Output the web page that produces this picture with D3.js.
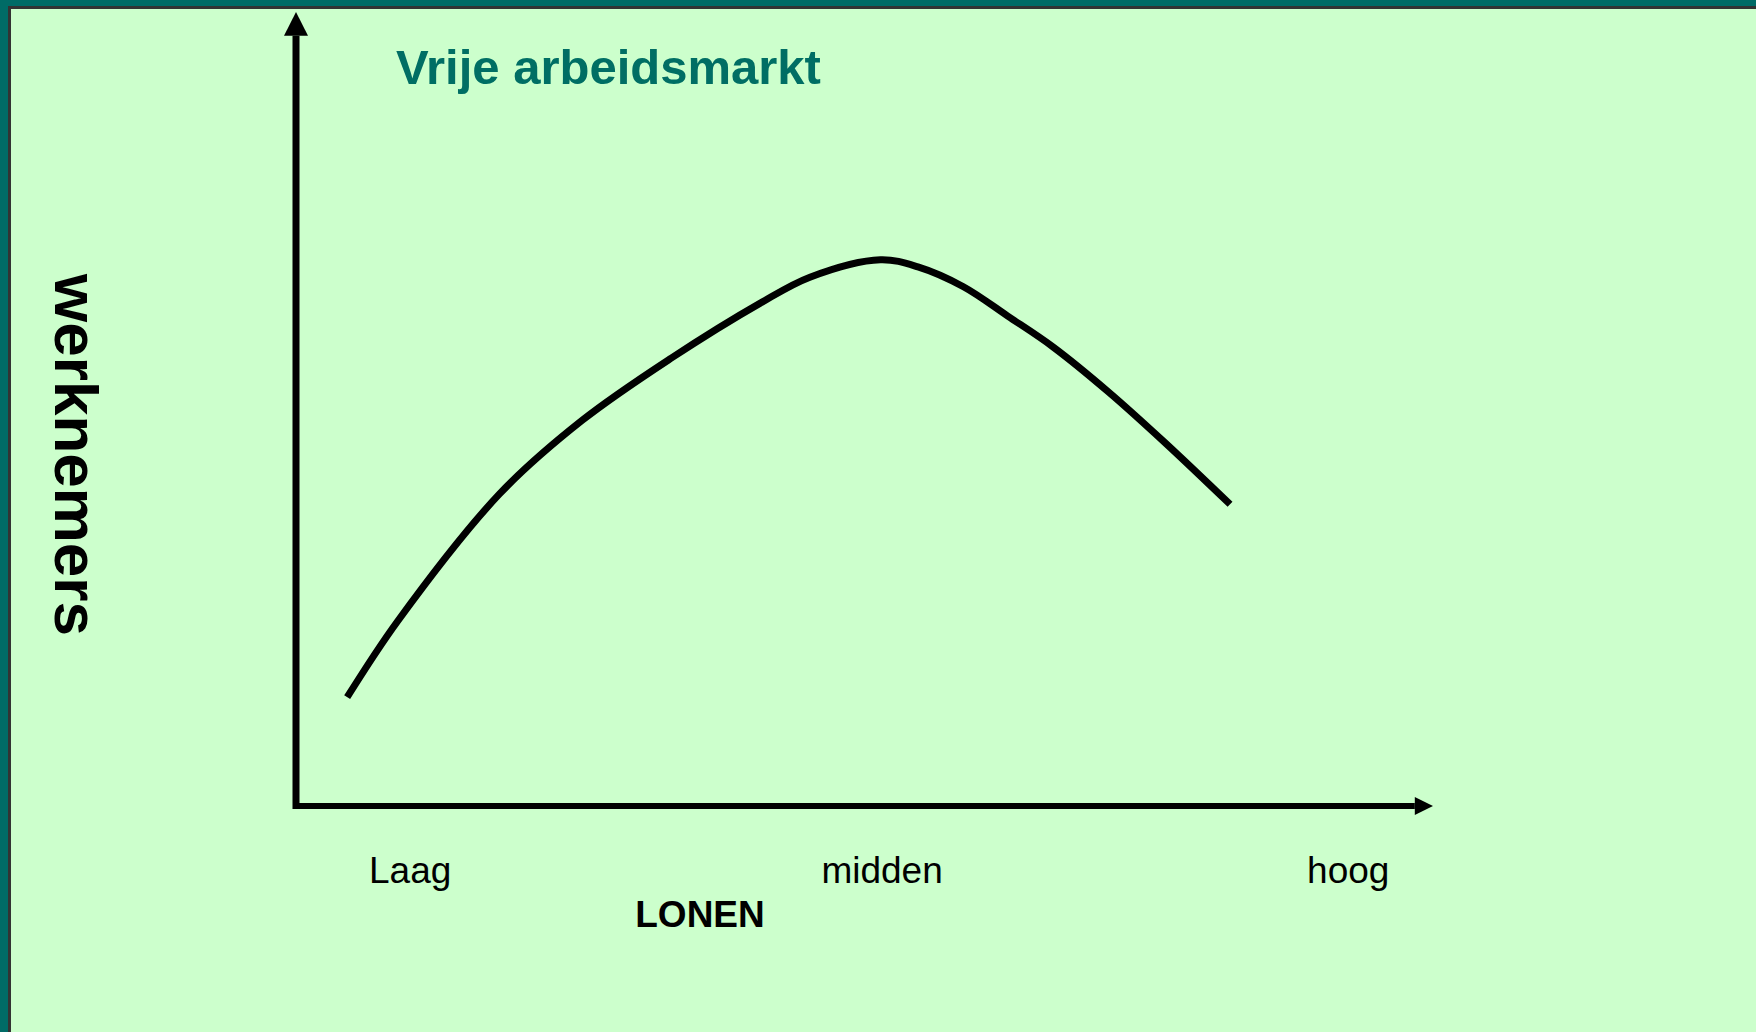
<!DOCTYPE html>
<html>
<head>
<meta charset="utf-8">
<script src="https://cdn.jsdelivr.net/npm/d3@7"></script>
<style>
  body { margin: 0; background: #006b66; }
  text { font-family: "Liberation Sans", Arial, sans-serif; }
</style>
</head>
<body>
<div id="chart"></div>
<script>
// Data: wage level (lonen, 0-100) vs number of employees (werknemers, 0-100)
const lonen = [4.5, 9.0, 17.9, 25.2, 33.0, 40.8, 45.2, 51.4, 54.7, 58.7, 62.6, 66.6, 71.5, 76.4, 82.15];
const werknemers = [13.7, 23.4, 39.3, 48.6, 56.4, 63.3, 66.6, 68.8, 67.9, 65.4, 61.7, 57.8, 52.1, 45.8, 38.0];
const tickValues = [10, 51.5, 92.5];
const tickLabels = ["Laag", "midden", "hoog"];
const title = "Vrije arbeidsmarkt";

const W = 1756, H = 1032;

const svg = d3.select("#chart").append("svg")
    .attr("width", W)
    .attr("height", H)
    .style("display", "block");

// slide frame
svg.append("rect").attr("width", W).attr("height", H).attr("fill", "#006b66");
svg.append("rect").attr("x", 8).attr("y", 6).attr("width", W).attr("height", H).attr("fill", "#333");
svg.append("rect").attr("x", 11).attr("y", 9).attr("width", W).attr("height", H).attr("fill", "#ccffcc");

// scales: axis origin at (296, 806)
const x = d3.scaleLinear().domain([0, 100]).range([296, 1433]);
const y = d3.scaleLinear().domain([0, 100]).range([806, 12]);

// x axis labels
const xAxis = svg.append("g")
    .attr("transform", `translate(0,${y(0)})`)
    .call(d3.axisBottom(x)
        .tickValues(tickValues)
        .tickFormat((d, i) => tickLabels[i])
        .tickSize(0)
        .tickPadding(51));
xAxis.select(".domain").remove();
xAxis.selectAll("text")
    .attr("fill", "#000")
    .style("font-family", '"Liberation Sans", Arial, sans-serif')
    .style("font-size", "37px");

// axis lines with arrow heads
svg.append("line")
    .attr("x1", x(0)).attr("y1", y(0) + 3)
    .attr("x2", x(0)).attr("y2", y(97))
    .attr("stroke", "#000").attr("stroke-width", 7);
svg.append("path")
    .attr("d", `M${x(0)},${y(100)} L${x(0) - 12},${y(97)} L${x(0) + 12},${y(97)} Z`)
    .attr("fill", "#000");

svg.append("line")
    .attr("x1", x(0) - 3).attr("y1", y(0))
    .attr("x2", x(98.4)).attr("y2", y(0))
    .attr("stroke", "#000").attr("stroke-width", 6);
svg.append("path")
    .attr("d", `M${x(100)},${y(0)} L${x(98.4)},${y(0) - 9} L${x(98.4)},${y(0) + 9} Z`)
    .attr("fill", "#000");

// curve
const points = lonen.map((d, i) => [d, werknemers[i]]);
const line = d3.line()
    .x(d => x(d[0]))
    .y(d => y(d[1]))
    .curve(d3.curveCatmullRom.alpha(0.5));

svg.append("path")
    .datum(points)
    .attr("d", line)
    .attr("fill", "none")
    .attr("stroke", "#000")
    .attr("stroke-width", 7);

// title
svg.append("text")
    .attr("x", 396)
    .attr("y", 84)
    .attr("fill", "#006e64")
    .style("font-size", "49px")
    .style("font-weight", "bold")
    .text(title);

// y axis label (rotated, reads top to bottom)
svg.append("text")
    .attr("transform", "translate(55,455) rotate(90)")
    .attr("text-anchor", "middle")
    .attr("fill", "#000")
    .style("font-size", "62px")
    .style("font-weight", "bold")
    .text("werknemers");

// x axis title
svg.append("text")
    .attr("x", 700)
    .attr("y", 927)
    .attr("text-anchor", "middle")
    .attr("fill", "#000")
    .style("font-size", "37px")
    .style("font-weight", "bold")
    .text("LONEN");
</script>
</body>
</html>
